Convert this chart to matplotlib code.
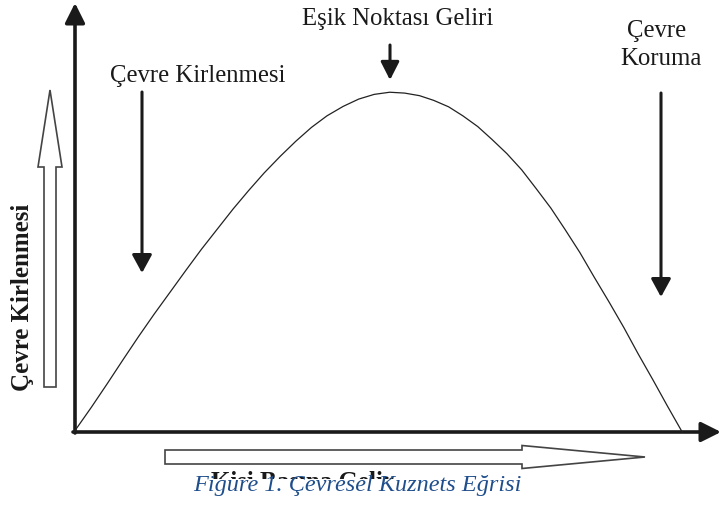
import matplotlib
matplotlib.use('Agg')
import matplotlib.pyplot as plt
from matplotlib.patches import FancyArrow, Rectangle

# Kuznets egrisi: kisi basina gelir (0-100) ve cevre kirlenmesi (0-100)
gelir = [0, 2.7, 5.2, 7.6, 10.0, 12.4, 14.9, 17.3, 19.7, 22.2, 24.6, 27.0, 29.4,
         31.9, 34.3, 36.7, 39.1, 41.6, 44.0, 46.4, 48.8,
         51.1, 53.4, 55.6, 57.9, 60.1, 62.4, 64.6, 66.9, 69.2, 71.4, 73.7, 75.9,
         78.2, 80.4, 82.7, 85.0, 87.2, 89.5, 91.7, 94.0]
kirlilik = [0, 5.8, 11.4, 16.9, 22.3, 27.5, 32.7, 37.7, 42.6, 47.4, 52.0, 56.3, 60.4,
            64.3, 67.8, 71.0, 73.7, 75.9, 77.6, 78.7, 79.2,
            79.0, 78.4, 77.3, 75.8, 73.7, 71.2, 68.2, 64.9, 61.1, 56.8, 52.2, 47.2,
            41.8, 36.1, 30.3, 24.3, 18.2, 12.1, 6.1, 0]

eksen_y = 'Çevre Kirlenmesi'
eksen_x = 'Kişi Başına Gelir'
etiket_sol = 'Çevre Kirlenmesi'
etiket_orta = 'Eşik Noktası Geliri'
etiket_sag = ['Çevre', 'Koruma']
baslik = 'Figure 1. Çevresel Kuznets Eğrisi'

W, H = 721, 511
fig = plt.figure(figsize=(W / 100, H / 100), dpi=100)
fig.patch.set_facecolor('white')

# piksel koordinatli ust katman (oklar, yazilar)
ov = fig.add_axes([0, 0, 1, 1])
ov.set_xlim(0, W)
ov.set_ylim(H, 0)
ov.axis('off')

# egri icin veri ekseni
ax = fig.add_axes([74 / W, (H - 432) / H, 647 / W, 429 / H])
ax.set_xlim(0, 100)
ax.set_ylim(0, 100)
ax.axis('off')
ax.plot(gelir, kirlilik, color='#222222', lw=0.9, clip_on=False,
        solid_joinstyle='round')

serif = ['Liberation Serif', 'DejaVu Serif']
fs = 17.8

def ok(x0, y0, x1, y1, lw=2.2, hw=0.3, hl=0.6):
    ov.annotate('', xy=(x1, y1), xytext=(x0, y0),
                arrowprops=dict(arrowstyle=f'-|>,head_width={hw},head_length={hl}',
                                lw=lw, color='#1a1a1a', shrinkA=0, shrinkB=0,
                                mutation_scale=20))

# eksenler
ok(75, 433, 75, 3, lw=2.6, hw=0.3, hl=0.6)
ok(73, 432, 721, 432, lw=2.6, hw=0.3, hl=0.6)

# dolu oklar
ok(390, 45, 390, 80, lw=2.2, hw=0.28, hl=0.55)
ok(142, 92, 142, 273, lw=2.2, hw=0.3, hl=0.55)
ok(661, 93, 661, 297, lw=2.2, hw=0.3, hl=0.55)

# bos oklar
ov.add_patch(FancyArrow(165, 457, 645 - 165, 0, width=14, head_width=23,
                        head_length=123, length_includes_head=True,
                        facecolor='white', edgecolor='#444444', lw=1.2))
ov.add_patch(FancyArrow(50, 387, 0, 90 - 387, width=12, head_width=24,
                        head_length=77, length_includes_head=True,
                        facecolor='white', edgecolor='#444444', lw=1.2))

# yazilar
ov.text(398, 25, etiket_orta, ha='center', va='baseline', fontsize=fs,
        family=serif, color='#1a1a1a')
ov.text(198, 82, etiket_sol, ha='center', va='baseline', fontsize=fs,
        family=serif, color='#1a1a1a')
ov.text(657, 37, etiket_sag[0], ha='center', va='baseline', fontsize=fs,
        family=serif, color='#1a1a1a')
ov.text(661, 65, etiket_sag[1], ha='center', va='baseline', fontsize=fs,
        family=serif, color='#1a1a1a')
ov.text(23, 297, eksen_y, ha='center', va='center', rotation=90, fontsize=18,
        fontweight='bold', family=serif, color='#1a1a1a')

# alt eksen yazisi kesik gorunuyor (sadece ust kismi)
ov.text(302, 489, eksen_x, ha='center', va='baseline', fontsize=18,
        fontweight='bold', family=serif, color='#1a1a1a', zorder=2)
ov.add_patch(Rectangle((0, 479), W, H - 479, facecolor='white',
                       edgecolor='none', zorder=3))

ov.text(357, 491, baslik, ha='center', va='baseline', fontsize=17.5,
        style='italic', family=serif, color='#1f4e8c', zorder=4)

fig.savefig('out.png', dpi=100, facecolor='white')
